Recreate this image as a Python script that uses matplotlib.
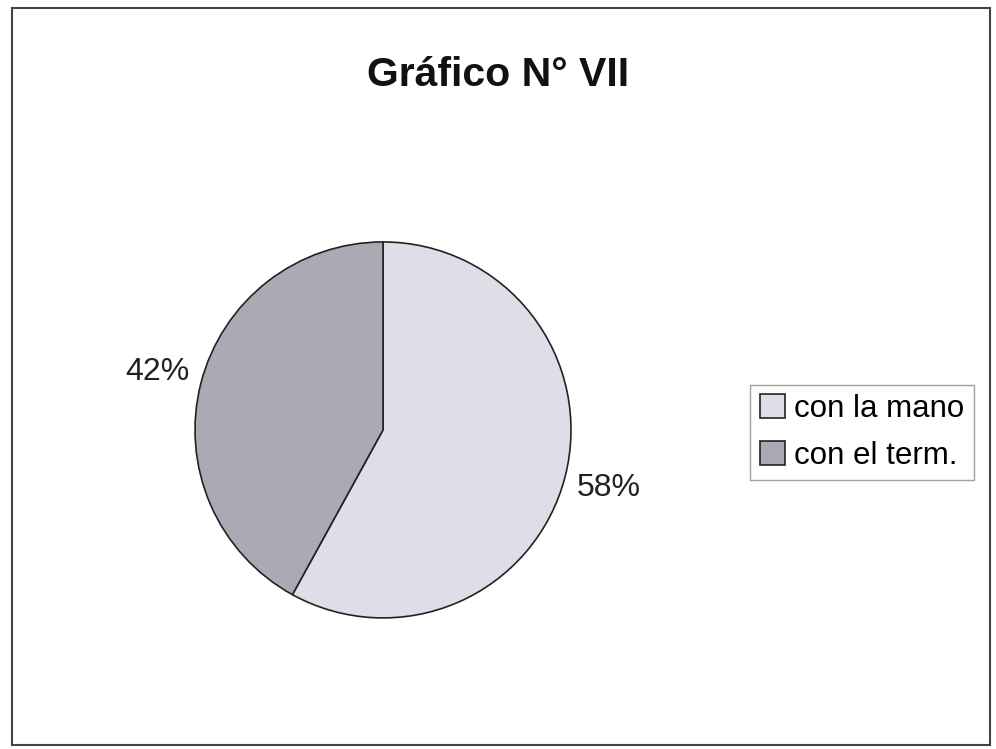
import matplotlib.pyplot as plt
from matplotlib.patches import Rectangle

# data
labels = ['con la mano', 'con el term.']
values = [58, 42]
colors = ['#dddee7', '#a9aab4']

plt.rcParams['font.family'] = ['Liberation Sans', 'DejaVu Sans']

fig = plt.figure(figsize=(9.96, 7.49), dpi=100)
fig.patch.set_facecolor('white')

# outer chart border
fig.patches.append(Rectangle((12 / 996, 4 / 749), 978 / 996, 737 / 749,
                             transform=fig.transFigure, fill=False,
                             edgecolor='#444444', linewidth=1.5))

fig.text(0.5, 0.90, 'Gráfico N° VII', ha='center', va='center',
         fontsize=29.5, fontweight='bold', color='#111111')

ax = fig.add_axes([0.1958, 0.175, 0.3775, 0.502])
wedges, texts, autotexts = ax.pie(values, colors=colors, startangle=90,
                                  counterclock=False, autopct='%d%%',
                                  pctdistance=1.24,
                                  wedgeprops=dict(edgecolor='#222222', linewidth=1.2),
                                  textprops=dict(fontsize=23, color='#222222'))
ax.set_xlim(-1, 1)
ax.set_ylim(-1, 1)
ax.set_aspect('equal')

leg = fig.legend(wedges, labels, loc='center', bbox_to_anchor=(0.8655, 0.4226),
                 fontsize=22.5, frameon=True, fancybox=False, edgecolor='#888888',
                 handlelength=0.8, handleheight=0.8, handletextpad=0.3,
                 labelspacing=0.55, borderpad=0.3)
leg.get_frame().set_linewidth(1.0)

fig.savefig('out.png', dpi=100)
